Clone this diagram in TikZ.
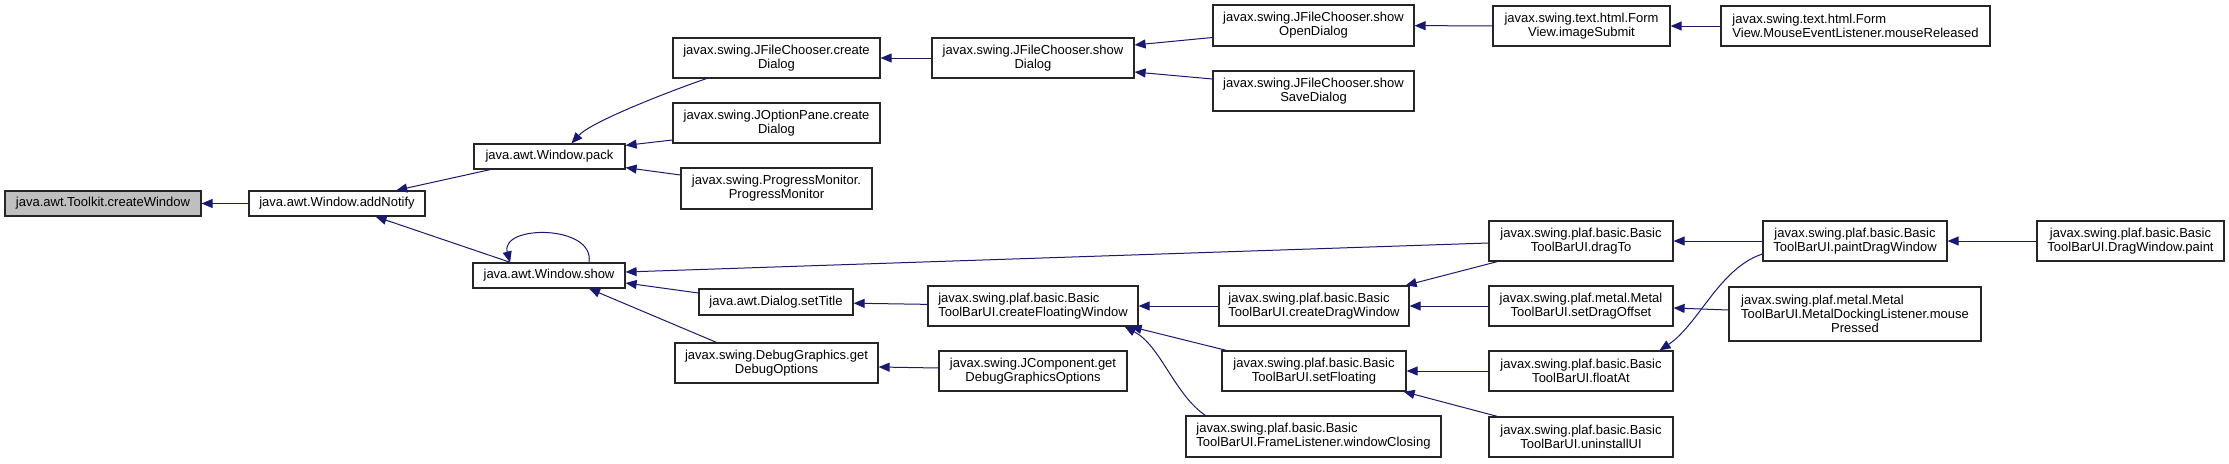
\documentclass[tikz,border=0pt]{standalone}
\usepackage{fontspec}
\setmainfont{Liberation Sans}
\usepackage{xcolor}
\usetikzlibrary{arrows.meta}
\definecolor{edgeblue}{RGB}{25,25,112}
\definecolor{rootgray}{RGB}{191,191,191}

\begin{document}
\begin{tikzpicture}[
    x=1pt, y=-1pt,
    font=\fontsize{13}{14}\selectfont,
    fn/.style={draw=black!85, line width=1.2pt, fill=white, inner sep=0pt, align=center},
    fnl/.style={fn, align=left},
    root/.style={fn, fill=rootgray},
    sz/.style 2 args={minimum width=#1pt, minimum height=#2pt},
    call/.style={-{Triangle[length=11pt, width=9pt]}, line width=1pt, edgeblue}
]
\useasboundingbox[fill=white] (0,0) rectangle (2229,463);

% ---------- window creation chain ----------
\node[root, sz={196}{25}] (createWin) at (103,203.5) {java.awt.Toolkit.createWindow};
\node[fn, sz={176}{25}] (addNotify) at (337,203.5) {java.awt.Window.addNotify};
\node[fn, sz={151}{25}] (pack) at (549.5,156.5) {java.awt.Window.pack};
\node[fn, sz={152}{25}] (show) at (549,275.5) {java.awt.Window.show};

% ---------- callers of pack ----------
\node[fn, sz={207}{40}] (fcCreate) at (776.5,58) {javax.swing.JFileChooser.create\\Dialog};
\node[fn, sz={207}{40}] (opCreate) at (776.5,123) {javax.swing.JOptionPane.create\\Dialog};
\node[fn, sz={191}{41}] (progMon) at (776.5,188.5) {javax.swing.ProgressMonitor.\\ProgressMonitor};
\node[fn, sz={202}{40}] (fcShow) at (1033,58) {javax.swing.JFileChooser.show\\Dialog};
\node[fn, sz={201}{41}] (fcOpen) at (1313.5,25.5) {javax.swing.JFileChooser.show\\OpenDialog};
\node[fn, sz={201}{40}] (fcSave) at (1313.5,91) {javax.swing.JFileChooser.show\\SaveDialog};
\node[fn, sz={177}{40}] (imgSubmit) at (1581.5,26) {javax.swing.text.html.Form\\View.imageSubmit};
\node[fnl, sz={269}{40}] (mouseRel) at (1855.5,26) {javax.swing.text.html.Form\\View.MouseEventListener.mouseReleased};

% ---------- callers of show ----------
\node[fn, sz={154}{26}] (setTitle) at (776,302) {java.awt.Dialog.setTitle};
\node[fn, sz={203}{40}] (dbgOpts) at (776.5,363) {javax.swing.DebugGraphics.get\\DebugOptions};
\node[fnl, sz={210}{40}] (floatWin) at (1033,306) {javax.swing.plaf.basic.Basic\\ToolBarUI.createFloatingWindow};
\node[fn, sz={188}{40}] (dbgGfxOpts) at (1033,371) {javax.swing.JComponent.get\\DebugGraphicsOptions};
\node[fnl, sz={255}{41}] (winClosing) at (1313.5,436.5) {javax.swing.plaf.basic.Basic\\ToolBarUI.FrameListener.windowClosing};
\node[fnl, sz={190}{40}] (dragWin) at (1314,306) {javax.swing.plaf.basic.Basic\\ToolBarUI.createDragWindow};
\node[fn, sz={184}{40}] (setFloat) at (1314,371) {javax.swing.plaf.basic.Basic\\ToolBarUI.setFloating};
\node[fn, sz={184}{40}] (dragTo) at (1581,241) {javax.swing.plaf.basic.Basic\\ToolBarUI.dragTo};
\node[fn, sz={184}{40}] (dragOff) at (1581,306) {javax.swing.plaf.metal.Metal\\ToolBarUI.setDragOffset};
\node[fn, sz={184}{40}] (floatAt) at (1581,371) {javax.swing.plaf.basic.Basic\\ToolBarUI.floatAt};
\node[fn, sz={184}{40}] (uninst) at (1581,437) {javax.swing.plaf.basic.Basic\\ToolBarUI.uninstallUI};
\node[fn, sz={184}{40}] (paintDrag) at (1855,241) {javax.swing.plaf.basic.Basic\\ToolBarUI.paintDragWindow};
\node[fn, sz={252}{54}] (mousePress) at (1855,314)
   {\rlap{javax.swing.plaf.metal.Metal}\hphantom{ToolBarUI.MetalDockingListener.mouse}\\ToolBarUI.MetalDockingListener.mouse\\Pressed};
\node[fn, sz={187}{40}] (dwPaint) at (2130.5,241) {javax.swing.plaf.basic.Basic\\ToolBarUI.DragWindow.paint};

% ---------- calls ----------
\draw[call] (addNotify) -- (createWin);
\draw[call] (pack) -- (addNotify);
\draw[call] (show) -- (addNotify);
\draw[call] ([xshift=40pt]show.north) .. controls +(6,-38) and +(-10,-38) .. ([xshift=-39pt]show.north);
\draw[call] ([xshift=34pt]fcCreate.south west) .. controls +(-35,12) and +(20,-22) .. ([xshift=22pt]pack.north);
\draw[call] ([yshift=-17pt]opCreate.west) -- ([yshift=-2pt]pack.north east);
\draw[call] ([yshift=13.5pt]progMon.west) -- ([yshift=2pt]pack.south east);
\draw[call] (fcShow) -- (fcCreate);
\draw[call] ([yshift=-12pt]fcOpen.west) -- ([yshift=13pt]fcShow.east);
\draw[call] ([yshift=12pt]fcSave.west) -- ([yshift=-14pt]fcShow.east);
\draw[call] (imgSubmit) -- (fcOpen);
\draw[call] (mouseRel) -- (imgSubmit);

\draw[call] ([yshift=-2pt]dragTo.west) -- ([yshift=3.5pt]show.east);
\draw[call] ([yshift=9pt]setTitle.west) -- ([yshift=-7.5pt]show.east);
\draw[call] ([xshift=-60pt]dbgOpts.north) -- ([xshift=40pt]show.south);
\draw[call] (floatWin) -- (setTitle);
\draw[call] (dragWin) -- (floatWin);
\draw[call] ([xshift=5pt]setFloat.north west) -- ([xshift=-8pt]floatWin.south east);
\draw[call] ([xshift=20pt]winClosing.north west) .. controls +(-31,-21) and +(36,19) .. ([xshift=-14pt]floatWin.south east);
\draw[call] ([yshift=3pt]dbgGfxOpts.west) -- ([yshift=-4pt]dbgOpts.east);
\draw[call] ([xshift=9pt]dragTo.south west) -- ([xshift=-4pt]dragWin.north east);
\draw[call] (dragOff) -- (dragWin);
\draw[call] (floatAt) -- (setFloat);
\draw[call] ([xshift=9pt]uninst.north west) -- ([xshift=-3pt]setFloat.south east);
\draw[call] (paintDrag) -- (dragTo);
\draw[call] ([yshift=-13pt]paintDrag.west) .. controls +(-43,14) and +(39,-26) .. ([xshift=-14pt]floatAt.north east);
\draw[call] ([yshift=4pt]mousePress.west) -- ([yshift=-2pt]dragOff.east);
\draw[call] (dwPaint) -- (paintDrag);

\end{tikzpicture}
\end{document}
